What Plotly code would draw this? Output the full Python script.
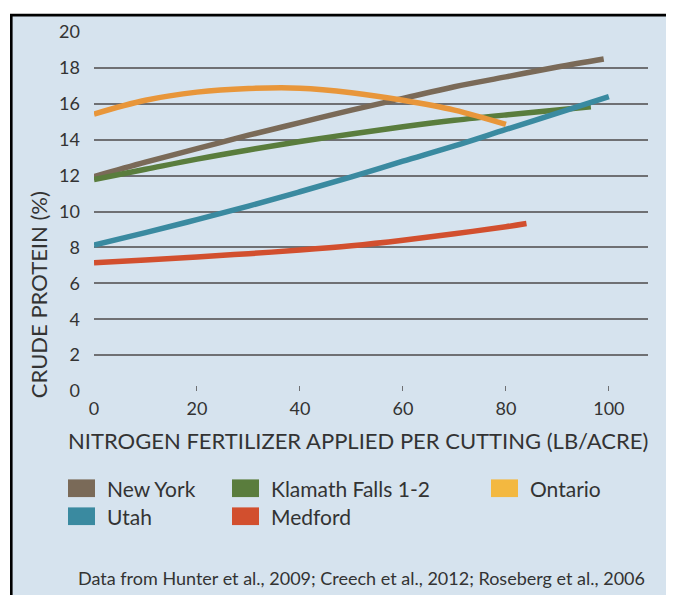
import plotly.graph_objects as go

# ---------------- data ----------------
series_names = ["New York", "Klamath Falls 1-2", "Ontario", "Utah", "Medford"]

ny_x = [0, 10, 20, 30, 40, 50, 60, 70, 80, 90, 99]
ny_y = [11.95, 12.75, 13.5, 14.25, 14.95, 15.65, 16.3, 16.95, 17.5, 18.05, 18.5]

kl_x = [0, 10, 20, 30, 40, 50, 60, 70, 80, 90, 96.5]
kl_y = [11.78, 12.35, 12.92, 13.43, 13.9, 14.32, 14.72, 15.08, 15.38, 15.65, 15.83]

on_x = [0, 10, 20, 30, 40, 50, 60, 70, 80]
on_y = [15.43, 16.2, 16.65, 16.85, 16.87, 16.62, 16.2, 15.65, 14.85]

ut_x = [0, 10, 20, 30, 40, 50, 60, 70, 80, 90, 100]
ut_y = [8.13, 8.82, 9.55, 10.3, 11.1, 11.93, 12.8, 13.65, 14.57, 15.48, 16.4]

me_x = [0, 10, 20, 30, 40, 50, 60, 70, 80, 84]
me_y = [7.14, 7.3, 7.47, 7.65, 7.85, 8.09, 8.4, 8.76, 9.15, 9.33]

x_ticks = [0, 20, 40, 60, 80, 100]
y_ticks = [0, 2, 4, 6, 8, 10, 12, 14, 16, 18, 20]

x_title = "NITROGEN FERTILIZER APPLIED PER CUTTING (LB/ACRE)"
y_title = "CRUDE PROTEIN (%)"
source_note = "Data from Hunter et al., 2009; Creech et al., 2012; Roseberg et al., 2006"

# ---------------- style ----------------
line_colors = ["#7a6a58", "#5a7d3d", "#e8963a", "#3a8aa0", "#d24f2e"]
swatch_colors = ["#7a6a58", "#5a7d3d", "#f3b840", "#3a8aa0", "#d24f2e"]
BG = "#d6e3ee"
GRID = "#6f7073"
TXT = "#333333"
FONT = "Lato"

OFF = 8  # page body margin in the browser
W, H = 674 - OFF, 595 - OFF
# plot area in window pixels: x 94..648, y 26..391.5
L = 94 - OFF
T = 26 - OFF
R = W - (648 - OFF)
B = H - (391.5 - OFF)
PW, PH = W - L - R, H - T - B


def fx(px):  # window pixel -> paper x
    return (px - OFF - L) / PW


def fy(py):  # window pixel -> paper y
    return (H - B - (py - OFF)) / PH


xs = [ny_x, kl_x, on_x, ut_x, me_x]
ys = [ny_y, kl_y, on_y, ut_y, me_y]

fig = go.Figure()
for name, x, y, c in zip(series_names, xs, ys, line_colors):
    fig.add_trace(go.Scatter(x=x, y=y, name=name, mode="lines",
                             line=dict(color=c, width=5.5, shape="spline", smoothing=1),
                             showlegend=False, hoverinfo="x+y+name"))

# background frame (left/top black border)
shapes = [dict(type="rect", xref="paper", yref="paper", layer="below",
               x0=fx(11.3), x1=fx(720), y0=fy(660), y1=fy(8.8),
               fillcolor=BG, line=dict(color="black", width=2.6))]

annotations = []
legend_pos = {  # swatch left px, row centre px (window coords)
    "New York": (68, 490.5), "Utah": (68, 519),
    "Klamath Falls 1-2": (232, 490.5), "Medford": (232, 519),
    "Ontario": (491, 490.5),
}
for name, sc in zip(series_names, swatch_colors):
    lx, ly = legend_pos[name]
    shapes.append(dict(type="rect", xref="paper", yref="paper",
                       x0=fx(lx), x1=fx(lx + 27), y0=fy(ly + 9), y1=fy(ly - 9),
                       fillcolor=sc, line=dict(width=0)))
    annotations.append(dict(text=name, xref="paper", yref="paper",
                            x=fx(lx + 37), y=fy(ly), xanchor="left", yanchor="middle",
                            showarrow=False, font=dict(family=FONT, size=21, color=TXT)))

annotations.append(dict(text=x_title, xref="paper", yref="paper", x=fx(358), y=fy(442),
                        xanchor="center", yanchor="middle", showarrow=False,
                        font=dict(family=FONT, size=22, color=TXT)))
annotations.append(dict(text=y_title, xref="paper", yref="paper", x=fx(38), y=fy(294),
                        xanchor="center", yanchor="middle", showarrow=False, textangle=-90,
                        font=dict(family=FONT, size=22, color=TXT)))
annotations.append(dict(text=source_note, xref="paper", yref="paper", x=fx(361), y=fy(582),
                        xanchor="center", yanchor="middle", showarrow=False,
                        font=dict(family=FONT, size=18, color=TXT)))

fig.update_layout(
    width=W, height=H,
    margin=dict(l=L, r=R, t=T, b=B, pad=0),
    paper_bgcolor="white", plot_bgcolor=BG,
    font=dict(family=FONT, size=18, color=TXT),
    shapes=shapes, annotations=annotations,
    showlegend=False,
    xaxis=dict(range=[0, 107.6], tickvals=x_ticks, showgrid=False, zeroline=False,
               showline=False, ticks="inside", ticklen=5, tickcolor=GRID, tickwidth=1,
               tickfont=dict(family=FONT, size=18, color=TXT), ticklabelstandoff=5),
    yaxis=dict(range=[0, 20], tickvals=y_ticks, showgrid=True, gridcolor=GRID, gridwidth=2,
               zeroline=False, showline=False, ticks="",
               tickfont=dict(family=FONT, size=18, color=TXT), ticklabelstandoff=13),
)

fig.write_html("out.html", config={"displayModeBar": False},
               post_script="document.documentElement.style.overflow='hidden';")
